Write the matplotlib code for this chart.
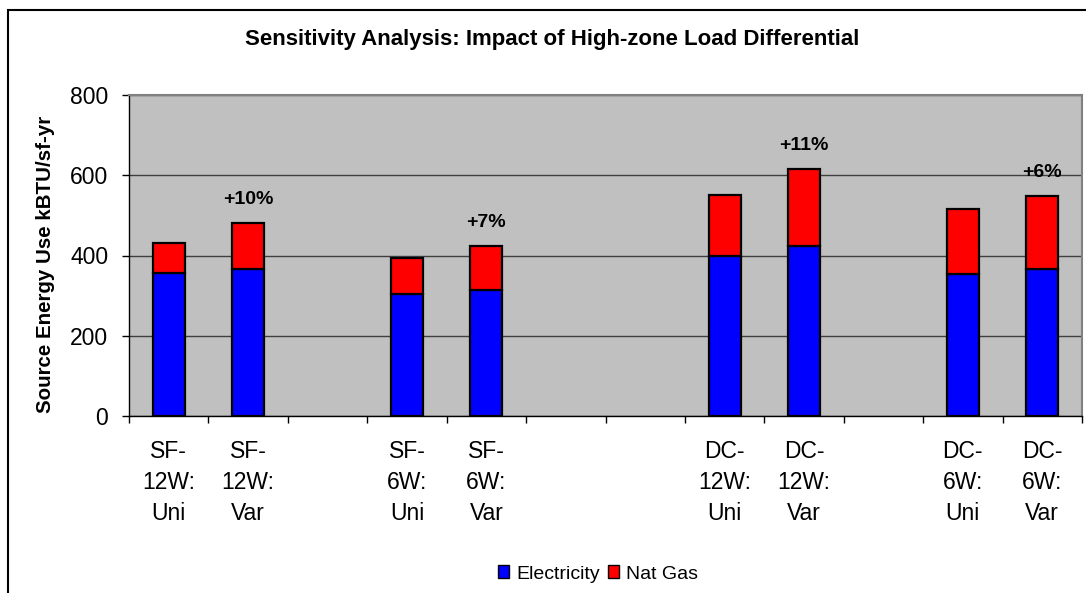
import matplotlib.pyplot as plt
from matplotlib.patches import Rectangle, Patch

plt.rcParams['font.family'] = ['Liberation Sans', 'DejaVu Sans']

# Категории (пустые строки - пропуски между группами)
categories = ['SF-\n12W:\nUni', 'SF-\n12W:\nVar', '',
              'SF-\n6W:\nUni', 'SF-\n6W:\nVar', '', '',
              'DC-\n12W:\nUni', 'DC-\n12W:\nVar', '',
              'DC-\n6W:\nUni', 'DC-\n6W:\nVar']
electricity = [357, 366, 0, 305, 315, 0, 0, 400, 424, 0, 353, 367]
nat_gas = [75, 114, 0, 90, 109, 0, 0, 152, 191, 0, 162, 181]
pct_labels = ['', '+10%', '', '', '+7%', '', '', '', '+11%', '', '', '+6%']

W, H = 1086, 593
fig = plt.figure(figsize=(W / 100, H / 100), dpi=100)
ax = fig.add_axes([129 / W, 1 - 416 / H, (1082 - 129) / W, (416 - 95) / H])
ax.set_facecolor('#C0C0C0')

x = list(range(len(categories)))
has_bar = [e + g > 0 for e, g in zip(electricity, nat_gas)]
xb = [xi for xi, h in zip(x, has_bar) if h]
eb = [e for e, h in zip(electricity, has_bar) if h]
gb = [g for g, h in zip(nat_gas, has_bar) if h]

ax.bar(xb, eb, width=0.4, color='#0000FF', edgecolor='black', linewidth=1.6, zorder=3)
ax.bar(xb, gb, width=0.4, bottom=eb, color='#FF0000', edgecolor='black', linewidth=1.6, zorder=3)

for xi, e, g, lab in zip(x, electricity, nat_gas, pct_labels):
    if lab:
        ax.annotate(lab, (xi, e + g), xytext=(0, 17), textcoords='offset points',
                    ha='center', va='center', fontsize=14, fontweight='bold')

ax.set_xlim(-0.5, len(categories) - 0.5)
ax.set_ylim(0, 800)
ax.set_yticks([0, 200, 400, 600, 800])
ax.tick_params(axis='y', labelsize=16.5, length=5, width=1, direction='out', pad=10)

ax.set_xticks(x)
ax.set_xticklabels(categories, fontsize=16.5, linespacing=1.45)
ax.tick_params(axis='x', length=0, pad=17)
ax.set_xticks([i - 0.5 for i in range(len(categories) + 1)], minor=True)
ax.tick_params(axis='x', which='minor', length=5, width=1, direction='out')

ax.grid(axis='y', color='#404040', linewidth=1, zorder=0)
ax.set_axisbelow(True)
for s in ['top', 'right']:
    ax.spines[s].set_color('#808080')
    ax.spines[s].set_linewidth(1.5)
for s in ['left', 'bottom']:
    ax.spines[s].set_color('black')
    ax.spines[s].set_linewidth(1)

fig.text(552 / W, 1 - 40 / H, 'Sensitivity Analysis: Impact of High-zone Load Differential',
         ha='center', va='center', fontsize=16, fontweight='bold')
fig.text(46 / W, 1 - 264 / H, 'Source Energy Use kBTU/sf-yr', rotation=90,
         ha='center', va='center', fontsize=14.8, fontweight='bold')

handles = [Patch(facecolor='#0000FF', edgecolor='black', label='Electricity'),
           Patch(facecolor='#FF0000', edgecolor='black', label='Nat Gas')]
fig.legend(handles=handles, loc='center', bbox_to_anchor=(598 / W, 1 - 574 / H), ncol=2,
           frameon=False, fontsize=14, handlelength=0.6, handleheight=0.6,
           handletextpad=0.35, columnspacing=0.4)

fig.patches.append(Rectangle((7.5 / W, -0.1), 1.2, 1.1 - 10 / H, transform=fig.transFigure,
                             fill=False, edgecolor='black', linewidth=1.5))

fig.savefig('out.png', dpi=100)
